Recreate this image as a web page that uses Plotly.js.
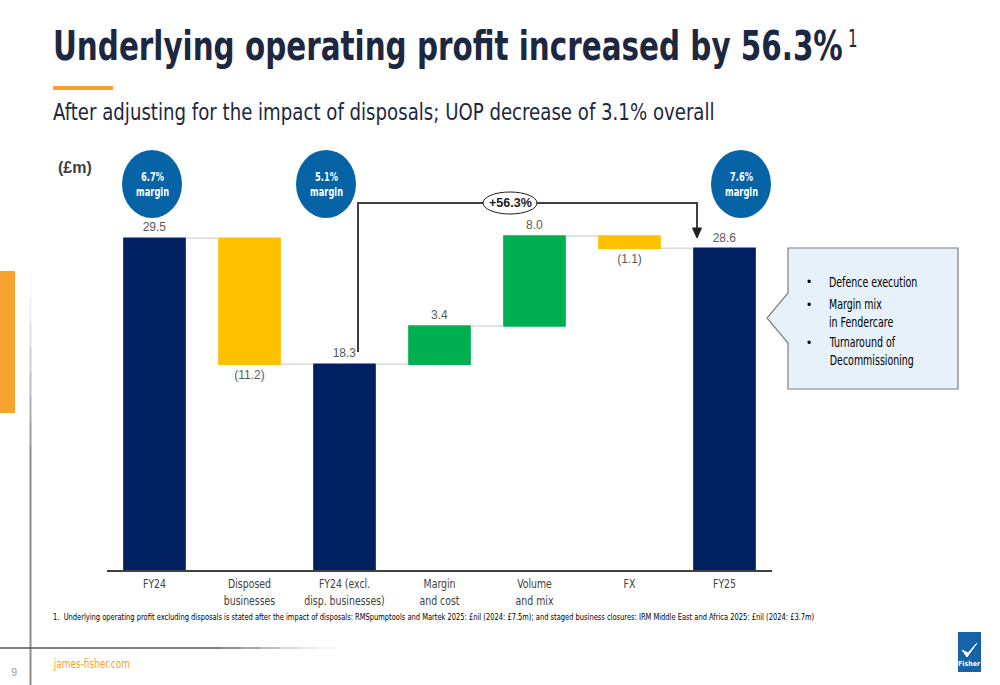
<!DOCTYPE html>
<html>
<head>
<meta charset="utf-8">
<script src="https://cdn.plot.ly/plotly-3.0.1.min.js"></script>
<style>
  html, body { margin: 0; padding: 0; background: #ffffff; }
  #chart { width: 1000px; height: 685px; }
</style>
</head>
<body>
<div id="chart"></div>
<script>
// Underlying operating profit bridge, FY24 to FY25 (£m)
const categories = ['FY24', 'Disposed<br>businesses', 'FY24 (excl.<br>disp. businesses)', 'Margin<br>and cost', 'Volume<br>and mix', 'FX', 'FY25'];
const measures = ['absolute', 'relative', 'total', 'relative', 'relative', 'relative', 'total'];
const values = [29.5, -11.2, 18.3, 3.4, 8.0, -1.1, 28.6];
const marginLabels = ['6.7%', '5.1%', '7.6%'];
const growthLabel = '+56.3%';
const calloutPoints = ['Defence execution', 'Margin mix<br>in Fendercare', 'Turnaround of<br>Decommissioning'];

const titleText = 'Underlying operating profit increased by 56.3%';
const titleNoteMark = '1';
const subtitleText = 'After adjusting for the impact of disposals; UOP decrease of 3.1% overall';
const unitText = '(£m)';
const footnoteText = '1.  Underlying operating profit excluding disposals is stated after the impact of disposals: RMSpumptools and Martek 2025: £nil (2024: £7.5m); and staged business closures: IRM Middle East and Africa 2025: £nil (2024: £3.7m)';
const siteText = 'james-fisher.com';
const pageNumber = '9';

// Page geometry (pixels) and helpers to convert into paper coordinates
const W = 1000, H = 685;
const M = { l: 107, r: 228, t: 150, b: 115 };
const plotW = W - M.l - M.r;
const plotH = H - M.t - M.b;
const X = px => (px - M.l) / plotW;
const Y = py => (H - M.b - py) / plotH;
const PX_PER_UNIT = 11.25;

const NAVY = '#002060', GREEN = '#00B050', AMBER = '#FFC000', BLUE = '#0563A6', ORANGE = '#F6A22E';
const COND = '"DejaVu Sans Condensed", "DejaVu Sans", sans-serif';
const SANS = '"Liberation Sans", Arial, sans-serif';

const fmt = v => v < 0 ? '(' + Math.abs(v).toFixed(1) + ')' : v.toFixed(1);

const trace = {
  type: 'waterfall',
  x: categories,
  y: values,
  measure: measures,
  text: values.map(fmt),
  textposition: 'outside',
  textfont: { family: SANS, size: 12, color: '#595959' },
  cliponaxis: false,
  width: 0.66,
  increasing: { marker: { color: GREEN } },
  decreasing: { marker: { color: AMBER } },
  totals: { marker: { color: NAVY } },
  connector: { line: { color: '#D9D9D9', width: 1.5 } },
  hoverinfo: 'skip'
};

const shapes = [];
const annotations = [];
const fitting = {};   // annotation index -> {width} or {factor} for narrow set type

function rectPx(x0, y0, x1, y1, color) {
  shapes.push({ type: 'rect', xref: 'paper', yref: 'paper', x0: X(x0), x1: X(x1), y0: Y(y1), y1: Y(y0),
    fillcolor: color, line: { width: 0 }, layer: 'above' });
}
function linePx(x0, y0, x1, y1, color, width) {
  shapes.push({ type: 'line', xref: 'paper', yref: 'paper', x0: X(x0), y0: Y(y0), x1: X(x1), y1: Y(y1),
    line: { color: color, width: width } });
}
function pathPx(points, close, opts) {
  let d = points.map((p, i) => (i ? 'L ' : 'M ') + X(p[0]) + ',' + Y(p[1])).join(' ');
  if (close) d += ' Z';
  shapes.push(Object.assign({ type: 'path', xref: 'paper', yref: 'paper', path: d, layer: 'above' }, opts));
}
function textPx(x, y, text, font, xanchor, yanchor, fit) {
  if (fit) fitting[annotations.length] = fit;
  annotations.push({ xref: 'paper', yref: 'paper', x: X(x), y: Y(y), text: text, showarrow: false,
    xanchor: xanchor || 'left', yanchor: yanchor || 'middle', align: xanchor === 'center' ? 'center' : 'left', font: font });
}

// Heading with its note mark, accent rule and subheading
textPx(51, 46, '<b>' + titleText + '</b>', { family: COND, size: 41, color: '#1E2740' }, 'left', 'middle', { width: 790 });
textPx(846, 39, titleNoteMark, { family: COND, size: 24, color: '#1E2740' }, 'left', 'middle', { factor: 0.7 });
rectPx(53, 86, 113, 90, ORANGE);
textPx(51, 112, subtitleText, { family: COND, size: 23, color: '#1E2740' }, 'left', 'middle', { width: 662 });
textPx(56, 168, '<b>' + unitText + '</b>', { family: SANS, size: 16, color: '#404040' });

// Margin bubbles over the three totals
const bubbleX = [152, 326, 741];
bubbleX.forEach((cx, i) => {
  shapes.push({ type: 'circle', xref: 'paper', yref: 'paper', x0: X(cx - 30), x1: X(cx + 30), y0: Y(218), y1: Y(150),
    fillcolor: BLUE, line: { width: 0 }, layer: 'above' });
  textPx(cx, 184, '<b>' + marginLabels[i] + '<br>margin</b>', { family: COND, size: 11.5, color: '#ffffff' }, 'center', 'middle', { factor: 0.8 });
});

// Growth bracket from the adjusted FY24 bar to FY25
pathPx([[358, 352], [358, 203], [697, 203], [697, 229]], false, { line: { color: '#404040', width: 2 } });
pathPx([[692.5, 228], [701.5, 228], [697, 238]], true, { fillcolor: '#202020', line: { color: '#202020', width: 1 } });
shapes.push({ type: 'circle', xref: 'paper', yref: 'paper', x0: X(483), x1: X(537), y0: Y(214), y1: Y(192),
  fillcolor: '#ffffff', line: { color: '#202020', width: 1 }, layer: 'above' });
textPx(510, 203, '<b>' + growthLabel + '</b>', { family: SANS, size: 12.5, color: '#202020' }, 'center', 'middle');

// Call-out box with drivers
pathPx([[788, 248], [958, 248], [958, 389], [788, 389], [788, 343], [767, 318], [788, 293]], true,
  { fillcolor: '#E7F1FA', line: { color: '#7F7F7F', width: 1.2 } });
const bulletY = [282, 313, 351];
calloutPoints.forEach((t, i) => {
  textPx(805, bulletY[i] - (t.indexOf('<br>') > 0 ? 8 : 0), '•', { family: SANS, size: 12, color: '#000000' }, 'left', 'middle');
  textPx(827, bulletY[i], t, { family: COND, size: 13.5, color: '#000000' }, 'left', 'middle', { factor: 0.78 });
});

// Footnote
textPx(51, 617, footnoteText, { family: COND, size: 9, color: '#000000' }, 'left', 'middle', { width: 763 });

// Page furniture: side accent, rules, footer
rectPx(0, 271, 15, 413, ORANGE);
const fadeSteps = ['#fbfbfb', '#eeeeee', '#e0e0e0', '#cfcfcf', '#bdbdbd', '#acacac', '#9c9c9c'];
fadeSteps.forEach((c, i) => linePx(30.5, 272 + i * 25, 30.5, 272 + (i + 1) * 25, c, 2));
linePx(30.5, 447, 30.5, 685, '#8c8c8c', 2);
linePx(0, 648, 222, 648, '#555555', 1.5);
const hFade = ['#6a6a6a', '#8a8a8a', '#aaaaaa', '#c8c8c8', '#e2e2e2', '#f4f4f4'];
hFade.forEach((c, i) => linePx(222 + i * 19, 648, 222 + (i + 1) * 19, 648, c, 1.5));
textPx(14, 672, pageNumber, { family: SANS, size: 11, color: '#9a9a9a' }, 'center', 'middle');
textPx(51, 663, siteText, { family: COND, size: 12.5, color: ORANGE }, 'left', 'middle', { width: 77 });

// Company mark
rectPx(958, 632, 981, 672, '#1763A8');
pathPx([[962, 650], [967, 657], [977, 643], [968, 653]], true, { fillcolor: '#ffffff', line: { color: '#ffffff', width: 1 } });
textPx(969.5, 664, '<b>Fisher</b>', { family: COND, size: 7, color: '#ffffff' }, 'center', 'middle');

const layout = {
  width: W, height: H,
  margin: M,
  paper_bgcolor: '#ffffff', plot_bgcolor: '#ffffff',
  showlegend: false,
  xaxis: {
    type: 'category',
    showline: true, linecolor: '#404040', linewidth: 1.5,
    ticks: '', showgrid: false, zeroline: false,
    tickfont: { family: COND, size: 13, color: '#404040' },
    ticklabelstandoff: 1
  },
  yaxis: {
    visible: false,
    range: [0, plotH / PX_PER_UNIT],
    showgrid: false, zeroline: false
  },
  shapes: shapes,
  annotations: annotations
};

// Set narrow type: scale a text element horizontally about its anchor edge or centre
function squeeze(el, fit, anchor) {
  const box = el.getBBox();
  if (!box.width) return;
  const sx = fit.width ? fit.width / box.width : fit.factor;
  const ax = anchor === 'center' ? box.x + box.width / 2 : box.x;
  const prev = el.getAttribute('transform') || '';
  el.setAttribute('transform', (prev + ' translate(' + ax * (1 - sx) + ',0) scale(' + sx + ',1)').trim());
}

// Shrink an annotation's background box to its squeezed text
function shrinkBox(ann, sx, anchor) {
  const bg = ann.querySelector('rect.bg');
  if (!bg) return;
  const oldW = parseFloat(bg.getAttribute('width'));
  const newW = oldW * sx;
  const x0 = parseFloat(bg.getAttribute('x')) || 0;
  bg.setAttribute('x', x0 + (anchor === 'center' ? (oldW - newW) / 2 : 0));
  bg.setAttribute('width', newW);
}

Plotly.newPlot('chart', [trace], layout, { staticPlot: true, displayModeBar: false }).then(gd => {
  Object.keys(fitting).forEach(i => {
    const ann = gd.querySelector('.annotation[data-index="' + i + '"]');
    const el = ann && ann.querySelector('.annotation-text');
    if (!el) return;
    const fit = fitting[i];
    const w = el.getBBox().width;
    const sx = fit.width ? fit.width / w : fit.factor;
    squeeze(el, { factor: sx }, annotations[i].xanchor);
    shrinkBox(ann, sx, annotations[i].xanchor);
  });
  gd.querySelectorAll('.xtick text').forEach(el => squeeze(el, { factor: 0.8 }, 'center'));
});
</script>
</body>
</html>
